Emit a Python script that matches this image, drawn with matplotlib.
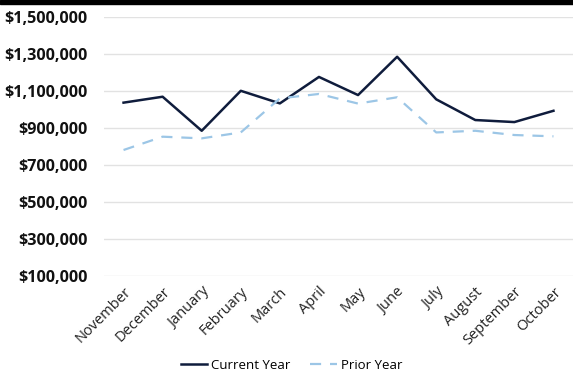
import matplotlib.pyplot as plt
from matplotlib.patches import Rectangle
from matplotlib.ticker import FuncFormatter

months = ['November', 'December', 'January', 'February', 'March', 'April',
          'May', 'June', 'July', 'August', 'September', 'October']
current_year = [1037000, 1069000, 885000, 1101000, 1033000, 1176000,
                1078000, 1285000, 1055000, 943000, 932000, 993000]
prior_year = [781000, 853000, 844000, 876000, 1060000, 1084000,
              1032000, 1066000, 876000, 885000, 862000, 855000]
y_ticks = [100000, 300000, 500000, 700000, 900000, 1100000, 1300000, 1500000]

plt.rcParams['font.family'] = ['Open Sans', 'DejaVu Sans']

fig = plt.figure(figsize=(5.73, 3.81), dpi=100)
ax = fig.add_axes([0.1815, 0.2756, 0.8185, 0.6798])

# black bar across the top
fig.patches.append(Rectangle((0, 0.989), 1, 0.011, transform=fig.transFigure,
                             color='black', zorder=5))

x = range(len(months))
ax.plot(x, current_year, color='#0f1c3c', linewidth=1.8, label='Current Year')
ax.plot(x, prior_year, color='#9cc6e6', linewidth=1.6, dashes=(5, 4),
        label='Prior Year')

ax.set_xlim(-0.5, len(months) - 0.5)
ax.set_ylim(100000, 1500000)
ax.set_yticks(y_ticks)
ax.yaxis.set_major_formatter(FuncFormatter(lambda v, p: '${:,.0f}'.format(v)))
ax.grid(axis='y', color='#e2e2e2', linewidth=1)
ax.set_axisbelow(True)
for s in ax.spines.values():
    s.set_visible(False)
ax.tick_params(length=0)
ax.tick_params(axis='y', pad=12)
for lab in ax.get_yticklabels():
    lab.set_fontweight('bold')
    lab.set_fontsize(11.6)
    lab.set_color('#111111')

ax.set_xticks(list(x))
ax.set_xticklabels(months, rotation=45, ha='right', rotation_mode='anchor',
                   fontsize=10.5, color='#222222')
ax.tick_params(axis='x', pad=6)

ax.legend(loc='center', bbox_to_anchor=(0.40, -0.345), ncol=2, frameon=False,
          fontsize=9.5, handlelength=2.0, handletextpad=0.3, columnspacing=1.5)

plt.savefig('out.png', dpi=100)
